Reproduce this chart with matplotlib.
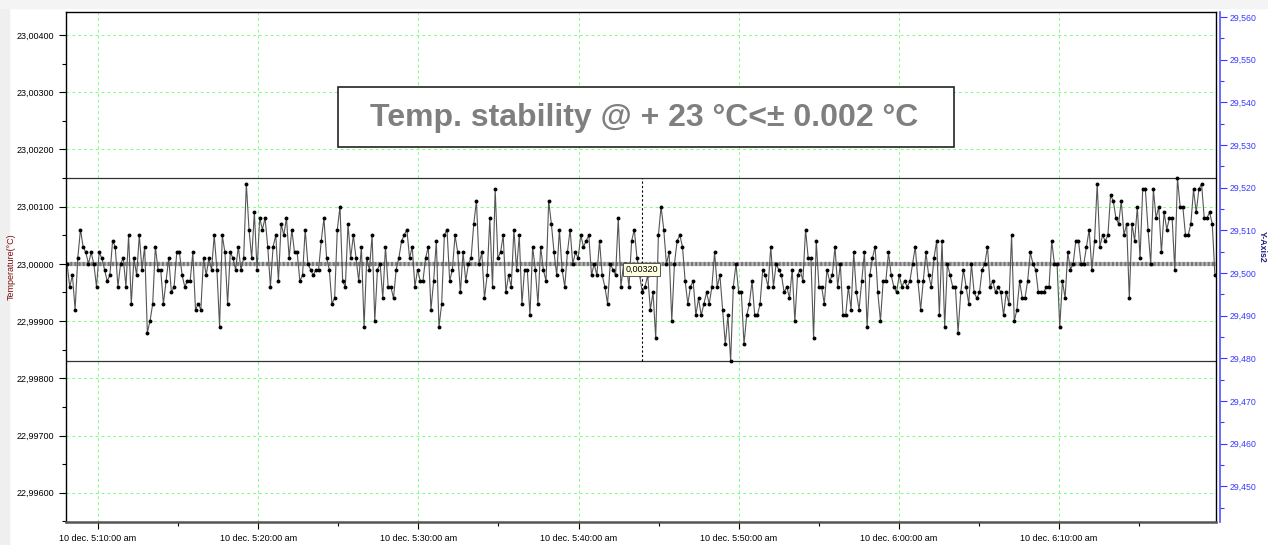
import matplotlib
matplotlib.use("Agg")
import matplotlib.pyplot as plt
import matplotlib.dates as mdates
from matplotlib.ticker import MultipleLocator, FuncFormatter
from matplotlib.patches import Rectangle
import numpy as np
import pandas as pd

plt.rcParams["font.family"] = ["Liberation Sans", "DejaVu Sans"]

# deviation from 23.000 degC in steps of 0.0001 degC
seg1 = [0, -4, -2, -8, 1, 6, 3, 2, 0, 2,
        0, -4, 2, 1, -1, -3, -2, 4, 3, -4,
        0, 1, -4, 5, -7, 1, -2, 5, -1, 3,
        -12, -10, -7, 3, -1, -1, -7, -3, 1, -5,
        -4, 2, 2, -2, -4, -3, -3, 2, -8, -7,
        -8, 1, -2, 1, -1, 5, -1, -11, 5, 2,
        -7, 2, 1, -1, 3, -1, 1, 14, 6, 1,
        9, -1, 8, 6, 8, 3, -4, 3, 5, -3,
        7, 5, 8, 1, 6, 2, 2, -3, -2, 6,
        0, -1, -2, -1, -1, 4, 8, 1, -1, -7,
        -6, 6, 10, -3, -4]
seg2 = [7, 1, 5, 1, -3, 3, -11, 1, -1, 5,
        -10, -1, 0, -6, 3, -4, -4, -6, -1, 1,
        4, 5, 6, 1, 3, -4, -1, -3, -3, 1,
        3, -8, -3, 4, -11, -7, 5, 6, -3, -1,
        5, 2, -5, 2, -3, 0, 1, 7, 11, 0,
        2, -6, -2, 8, -4, 13, 1, 2, 5, -5,
        -2, -4, 6, -1, 5, -7, -1, -1, -9, 3,
        -1, -7, 3, -1, -3, 11, 7, 2, -2, 6,
        -1, -4, 2, 6, 0, 2, 1, 5, 3, 4,
        5, -2, 0, -2, 4, -2, -4, -7, 0, -1,
        -2, 8, -4, 0, 0, -4, 4, 6, 1, -2]
seg3 = [-5, -4, -2, -8, -5, -13, 5, 10, 6, 0,
        2, -10, 0, 4, 5, 3, -3, -7, -4, -3,
        -9, -6, -9, -7, -5, -7, -4, 2, -4, -2,
        -8, -14, -9, -17, -4, 0, -5, -5, -14, -9,
        -7, -3, -9, -9, -7, -1, -2, -4, 3, -4,
        0, -1, -2, -5, -4, -6, -1, -10, -2, -1,
        -3, 6, 1, 1, -13, 4, -4, -4, -7, -1,
        -3, -2, 3, -4, 0, -9, -9, -4, -8, 2,
        -5, -8, -3, 2, -11, -2, 1, 3, -5, -10,
        -3, -3, 2, -2, -4, -5, -2, -4, -3, -4,
        -3, 0, 3, -3, -8, -3, 2, -2]
seg4 = [-4, 1, 4, -9, 4, -11, 0, -2, -4, -4,
        -12, -5, -1, -4, -7, 0, -5, -6, -5, -1,
        0, 3, -4, -3, -5, -4, -5, -9, -5, -7,
        5, -10, -8, -3, -6, -6, -3, 2, 0, -1,
        -5, -5, -5, -4, -4, 4, 0, 0, -11, -3,
        -6, 2, -1, 0, 4, 4, 0, 0, 3, 6,
        -1, 4, 14, 3, 5, 4, 5, 12, 11, 8,
        7, 11, 5, 7, -6, 7, 4, 10, 1, 13,
        13, 6, 0, 13, 8, 10, 2, 9, 6, 8,
        8, -1, 15, 10, 10, 5, 5, 7, 13, 9,
        13, 14, 8, 8, 9, 7, -2]

temps = 23.0 + np.array(seg1 + seg2 + seg3 + seg4) * 1e-4
times = pd.date_range("2023-12-10 05:08:04", "2023-12-10 06:19:44", periods=len(temps))

t_start = pd.Timestamp("2023-12-10 05:08:00")
t_end = pd.Timestamp("2023-12-10 06:19:48")
t_cursor = pd.Timestamp("2023-12-10 05:43:56")
upper_line = 23.0015
lower_line = 22.9983
mean_line = 23.0
title = "Temp. stability @ + 23 °C<± 0.002 °C"

W, H = 1268, 545
fig = plt.figure(figsize=(W / 100, H / 100), dpi=100)
fig.add_artist(Rectangle((0, 0), 9 / W, 1, transform=fig.transFigure,
                         color="#efefef", zorder=0))
fig.add_artist(Rectangle((0, 1 - 8 / H), 1, 8 / H, transform=fig.transFigure,
                         color="#f4f4f4", zorder=0))

ax = fig.add_axes([66 / W, 23 / H, 1150 / W, 510 / H])
ax.set_xlim(t_start, t_end)
ax.set_ylim(22.99549, 23.0044)

ax.grid(True, which="major", color="#80ff80", ls=(0, (3, 3)), lw=0.7)
ax.axhline(upper_line, color="#333333", lw=0.9)
ax.axhline(lower_line, color="#333333", lw=0.9)
ax.axhline(mean_line, color="#b8b8b8", lw=3.0)
ax.axhline(mean_line, color="#777777", lw=3.0, ls=(0, (0.5, 0.5)))

ax.plot(times, temps, color="#555555", lw=0.8, marker="o", ms=1.8,
        mfc="black", mec="black", zorder=4)

ax.plot([t_cursor, t_cursor], [lower_line, upper_line], color="black",
        lw=0.8, ls=(0, (2, 2)), zorder=5)
ax.text(t_cursor, 22.999905, "0,00320", ha="center", va="center", fontsize=6.5,
        zorder=6, bbox=dict(boxstyle="square,pad=0.2", fc="#ffffe1", ec="#555555", lw=0.7))

ax.yaxis.set_major_locator(MultipleLocator(0.001))
ax.yaxis.set_minor_locator(MultipleLocator(0.0005))
ax.yaxis.set_major_formatter(FuncFormatter(lambda v, p: f"{v:.5f}".replace(".", ",")))
ax.xaxis.set_major_locator(mdates.MinuteLocator(byminute=range(0, 60, 10)))
ax.xaxis.set_minor_locator(mdates.MinuteLocator(byminute=range(5, 60, 10)))
ax.xaxis.set_major_formatter(FuncFormatter(
    lambda v, p: mdates.num2date(v).strftime("10 dec. %-I:%M:%S am")))
ax.tick_params(axis="both", which="major", labelsize=6.5, length=5, width=0.8)
ax.tick_params(axis="both", which="minor", length=3, width=0.8)
ax.set_ylabel("Temperature(°C)", fontsize=6.5, color="#7a1010")
ax.yaxis.set_label_coords(-0.0435, 0.5)
for s in ax.spines.values():
    s.set_color("black")
    s.set_linewidth(1.0)
ax.spines["bottom"].set_color("#555555")
ax.spines["bottom"].set_linewidth(1.8)

ax2 = ax.twinx()
ax2.set_ylim(29.4416, 29.5612)
ax2.yaxis.set_major_locator(MultipleLocator(0.01))
ax2.yaxis.set_minor_locator(MultipleLocator(0.005))
ax2.yaxis.set_major_formatter(FuncFormatter(lambda v, p: f"{v:.3f}".replace(".", ",")))
ax2.spines["right"].set_position(("outward", 3))
ax2.spines["right"].set_color("#5050ff")
ax2.spines["right"].set_linewidth(1.2)
for side in ["left", "top", "bottom"]:
    ax2.spines[side].set_visible(False)
ax2.tick_params(axis="y", which="both", colors="#3a3aff", labelsize=6.3, width=0.8, pad=1.5)
ax2.tick_params(axis="y", which="major", length=5)
ax2.tick_params(axis="y", which="minor", length=3)
ax2.set_ylabel("Y-Axis2", fontsize=6.3, color="#202080", fontweight="bold", rotation=270,
               va="center")
ax2.yaxis.set_label_coords(1.0405, 0.54)

fig.add_artist(Rectangle((338 / W, 1 - 147 / H), 616 / W, 60 / H,
                         transform=fig.transFigure, fc="white", ec="#222222",
                         lw=1.2, zorder=10))
fig.text(644 / W, 1 - 118 / H, title, ha="center", va="center", fontsize=23,
         fontweight="bold", color="#7f7f7f", zorder=11)

fig.savefig("out.png", dpi=100)
